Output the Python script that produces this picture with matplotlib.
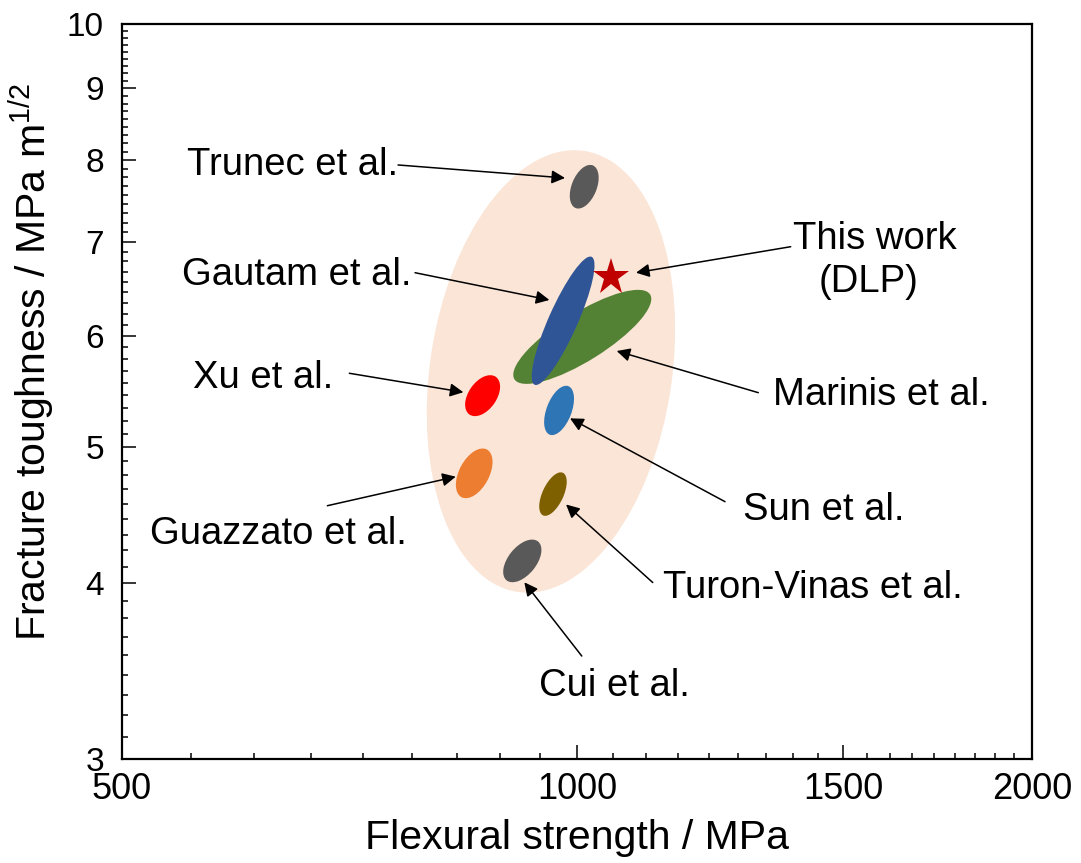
import numpy as np
import matplotlib
matplotlib.use("Agg")
import matplotlib.pyplot as plt
from matplotlib.patches import Ellipse
from matplotlib.transforms import ScaledTranslation
from matplotlib.ticker import NullFormatter

plt.rcParams["font.family"] = ["Liberation Sans", "DejaVu Sans"]
plt.rcParams["mathtext.fontset"] = "custom"
plt.rcParams["mathtext.rm"] = "Liberation Sans"

# literature data: flexural strength (MPa) and fracture toughness (MPa m^1/2)
names = ["Trunec et al.", "Marinis et al.", "Gautam et al.", "Xu et al.",
         "Sun et al.", "Guazzato et al.", "Turon-Vinas et al.", "Cui et al."]
strength = [1011, 1008, 979, 866, 973, 855, 964, 920]
toughness = [7.66, 5.99, 6.15, 5.44, 5.31, 4.79, 4.63, 4.15]
colors = ["#595959", "#548235", "#2F5597", "#FF0000",
          "#2E75B6", "#ED7D31", "#7F6000", "#595959"]

# overall zirconia region
region_strength = 961
region_toughness = 5.66

# this work (DLP)
dlp_strength = 1053
dlp_toughness = 6.61

# ellipse shapes in inches: width, height, angle
shapes = [(0.25, 0.46, -22), (1.60, 0.48, 32), (0.29, 1.40, -24),
          (0.28, 0.46, -35), (0.25, 0.52, -21), (0.30, 0.54, -28),
          (0.21, 0.47, -25), (0.28, 0.50, -39)]

fig = plt.figure(figsize=(10.81, 8.63), dpi=100)
ax = fig.add_axes([0.1129, 0.1205, 0.8418, 0.8517])
ax.set_xscale("log")
ax.set_yscale("log")
ax.set_xlim(500, 2000)
ax.set_ylim(3, 10)


def add_ellipse(x, y, w, h, angle, color, z):
    tr = fig.dpi_scale_trans + ScaledTranslation(x, y, ax.transData)
    ax.add_patch(Ellipse((0, 0), w, h, angle=angle, transform=tr,
                         facecolor=color, edgecolor="none", zorder=z))


add_ellipse(region_strength, region_toughness, 2.42, 4.46, -8.6, "#FBE5D6", 1)
for i, (x, y, c) in enumerate(zip(strength, toughness, colors)):
    w, h, a = shapes[i]
    add_ellipse(x, y, w, h, a, c, 2 + i)

ax.plot(dlp_strength, dlp_toughness, marker="*", markersize=28,
        color="#C00000", markeredgewidth=0, zorder=20)

# labels and arrows (axes fraction)
labels = [
    ("Trunec et al.", (0.0714, 0.7946), (0.3033, 0.8082), (0.4868, 0.7905)),
    ("Gautam et al.", (0.0663, 0.6449), (0.3220, 0.6616), (0.4696, 0.6245)),
    ("Xu et al.", (0.0777, 0.5044), (0.2498, 0.5248), (0.3751, 0.4990)),
    ("Guazzato et al.", (0.0308, 0.2925), (0.2256, 0.3446), (0.3667, 0.3841)),
    ("Marinis et al.", (0.7151, 0.4816), (0.6992, 0.4984), (0.5436, 0.5551)),
    ("Sun et al.", (0.6827, 0.3252), (0.6626, 0.3501), (0.4923, 0.4635)),
    ("Turon-Vinas et al.", (0.5942, 0.2186), (0.5832, 0.2401), (0.4879, 0.3463)),
    ("Cui et al.", (0.4586, 0.0857), (0.5052, 0.1401), (0.4421, 0.2404)),
    ("", None, (0.7348, 0.6970), (0.5648, 0.6616)),
]
for text, pos, start, tip in labels:
    if text:
        ax.text(pos[0], pos[1], text, transform=ax.transAxes, fontsize=27.5,
                ha="left", va="baseline", zorder=30)
    ax.annotate("", xy=tip, xycoords="axes fraction", xytext=start,
                textcoords="axes fraction", zorder=25,
                arrowprops=dict(arrowstyle="-|>", color="black", lw=1.1,
                                mutation_scale=20, shrinkA=0, shrinkB=0))

ax.text(0.8269, 0.6935, "This work", transform=ax.transAxes, fontsize=27.5,
        ha="center", va="baseline")
ax.text(0.8205, 0.6354, "(DLP)", transform=ax.transAxes, fontsize=27.5,
        ha="center", va="baseline")

# ticks
ax.set_xticks([500, 1000, 1500, 2000])
ax.set_xticklabels(["500", "1000", "1500", "2000"])
xminor = [500 + k * 500 / 9 for k in range(1, 27) if k % 9]
ax.set_xticks(xminor, minor=True)
ax.set_yticks(range(3, 11))
ax.set_yticklabels([str(v) for v in range(3, 11)])
yminor = [v + k / 9 for v in range(3, 10) for k in range(1, 9)]
ax.set_yticks(yminor, minor=True)
ax.xaxis.set_minor_formatter(NullFormatter())
ax.yaxis.set_minor_formatter(NullFormatter())

ax.tick_params(which="both", direction="in", top=False, right=False, width=1.1)
ax.tick_params(which="major", length=10)
ax.tick_params(which="minor", length=4.5)
ax.tick_params(axis="x", labelsize=26, pad=9)
ax.tick_params(axis="y", labelsize=24, pad=13)
for s in ax.spines.values():
    s.set_linewidth(1.6)

ax.set_xlabel("Flexural strength / MPa", fontsize=29.5)
ax.xaxis.set_label_coords(0.5, -0.081)
ax.set_ylabel(r"Fracture toughness / MPa m$^{\mathrm{1/2}}$", fontsize=29.5)
ax.yaxis.set_label_coords(-0.072, 0.54)

fig.savefig("out.png", dpi=100)
